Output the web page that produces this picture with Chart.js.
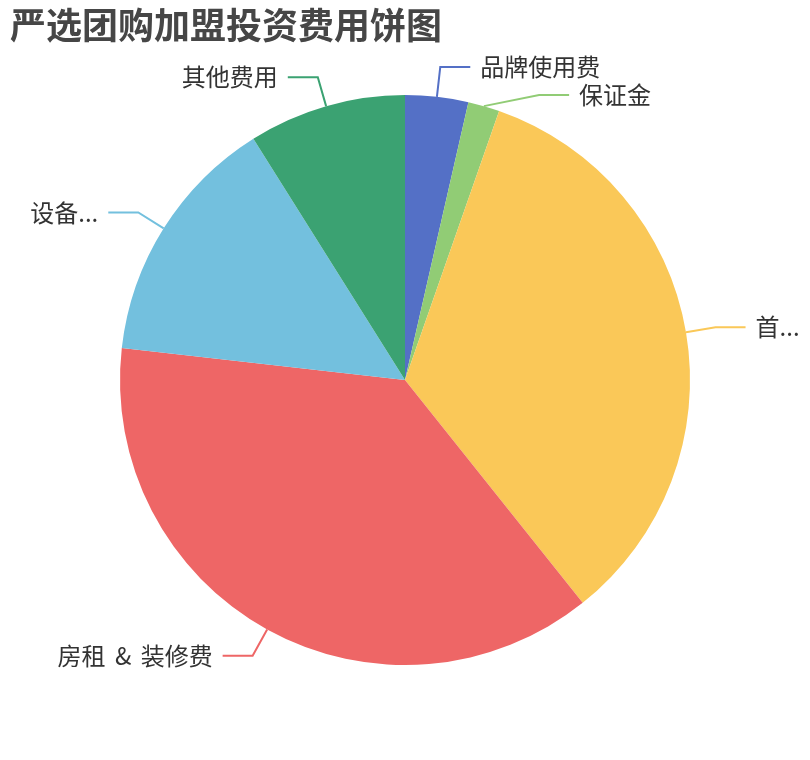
<!DOCTYPE html>
<html>
<head>
<meta charset="utf-8">
<script src="https://cdn.jsdelivr.net/npm/chart.js@4.4.1/dist/chart.umd.min.js"></script>
<style>
    html, body { margin: 0; padding: 0; background: #fff; }
    #wrap { width: 810px; height: 760px; }
</style>
</head>
<body>
<div id="wrap"><canvas id="chart-pie" width="810" height="760"></canvas></div>
<script>
/* global Chart */

const chartTitle = '严选团购加盟投资费用饼图';
const categories = ['品牌使用费', '保证金', '首...', '房租 & 装修费', '设备...', '其他费用'];
const values = [2, 1, 19, 21, 8, 5];
const sliceColors = ['#5470c6', '#91cc75', '#fac858', '#ee6666', '#73c0de', '#3ba272'];

const FONT = '"Noto Sans CJK SC", "Noto Sans", sans-serif';

// title + outside labels with leader lines (echarts-like)
const outerLabels = {
    id: 'outerLabels',
    afterDatasetsDraw(chart) {
        const ctx = chart.ctx;
        const arcs = chart.getDatasetMeta(0).data;
        const len1 = 30;
        const len2 = 30;
        const gap = 10;
        const minStep = 28;

        const items = arcs.map((arc, i) => {
            const p = arc.getProps(['x', 'y', 'outerRadius', 'startAngle', 'endAngle'], true);
            const mid = (p.startAngle + p.endAngle) / 2;
            const dx = Math.cos(mid);
            const dy = Math.sin(mid);
            return {
                i,
                cx: p.x,
                cy: p.y,
                r: p.outerRadius,
                p0: [p.x + p.outerRadius * dx, p.y + p.outerRadius * dy],
                y: p.y + (p.outerRadius + len1) * dy,
                side: dx >= 0 ? 1 : -1,
            };
        });

        // push overlapping labels down on each side
        [1, -1].forEach(side => {
            const list = items.filter(it => it.side === side).sort((a, b) => a.y - b.y);
            for (let k = 1; k < list.length; k++) {
                if (list[k].y - list[k - 1].y < minStep) {
                    list[k].y = list[k - 1].y + minStep;
                }
            }
        });

        ctx.save();
        ctx.lineWidth = 2;
        ctx.font = `24px ${FONT}`;
        ctx.textBaseline = 'middle';
        if ('wordSpacing' in ctx) ctx.wordSpacing = '4px';
        items.forEach(it => {
            const R = it.r + len1;
            const ddy = it.y - it.cy;
            const ddx = Math.sqrt(Math.max(R * R - ddy * ddy, 0));
            const x1 = it.cx + it.side * ddx;
            const x2 = x1 + it.side * len2;

            ctx.strokeStyle = sliceColors[it.i];
            ctx.beginPath();
            ctx.moveTo(it.p0[0], it.p0[1]);
            ctx.lineTo(x1, it.y);
            ctx.lineTo(x2, it.y);
            ctx.stroke();

            ctx.fillStyle = '#333';
            ctx.textAlign = it.side > 0 ? 'left' : 'right';
            ctx.fillText(categories[it.i], x2 + it.side * gap, it.y);
        });

        if ('wordSpacing' in ctx) ctx.wordSpacing = '0px';
        ctx.font = `bold 36px ${FONT}`;
        ctx.fillStyle = '#464646';
        ctx.textAlign = 'left';
        ctx.fillText(chartTitle, 10, 25);
        ctx.restore();
    },
};

new Chart(document.getElementById('chart-pie'), {
    type: 'pie',
    data: {
        labels: categories,
        datasets: [
            {
                data: values,
                backgroundColor: sliceColors,
                borderWidth: 0,
            },
        ],
    },
    options: {
        responsive: false,
        animation: false,
        layout: {
            padding: { top: 95, bottom: 95, left: 120, right: 120 },
        },
        plugins: {
            legend: { display: false },
            tooltip: { enabled: false },
            title: { display: false },
        },
    },
    plugins: [outerLabels],
});
</script>
</body>
</html>
